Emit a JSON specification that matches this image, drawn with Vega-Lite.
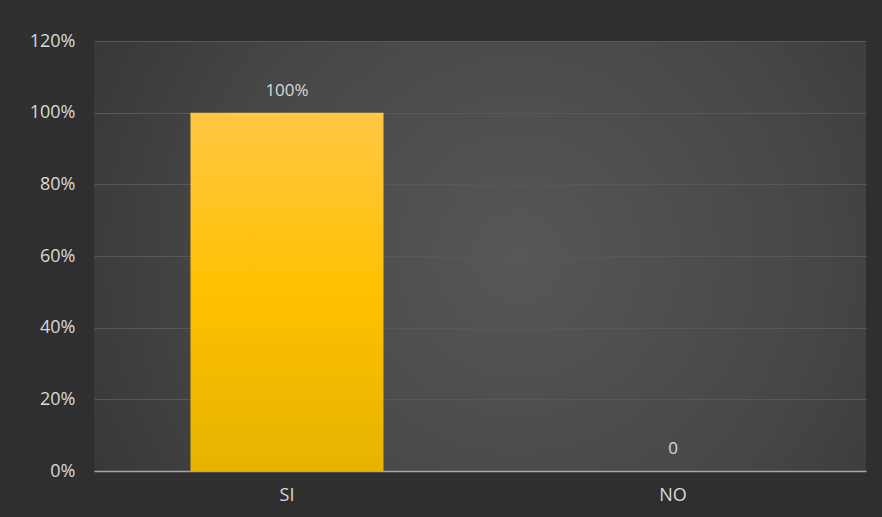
{
  "$schema": "https://vega.github.io/schema/vega-lite/v6.json",
  "width": 882,
  "height": 517,
  "autosize": {"type": "fit", "contains": "padding"},
  "padding": {"left": 29, "top": 32, "right": 16, "bottom": 13},
  "background": "#2f2f2f",
  "config": {
    "view": {
      "stroke": null,
      "fill": {
        "gradient": "radial",
        "x1": 0.55, "y1": 0.5, "r1": 0,
        "x2": 0.55, "y2": 0.5, "r2": 0.72,
        "stops": [
          {"offset": 0, "color": "#575757"},
          {"offset": 0.55, "color": "#464646"},
          {"offset": 1, "color": "#313131"}
        ]
      }
    },
    "font": "Open Sans",
    "axis": {"labelColor": "#d9d9d9", "labelFontSize": 18, "labelFont": "Open Sans", "ticks": false, "title": null}
  },
  "data": {
    "values": [
      {"respuesta": "SI", "valor": 1.0, "label": "100%"},
      {"respuesta": "NO", "valor": 0.0, "label": "0"}
    ]
  },
  "encoding": {
    "x": {
      "field": "respuesta",
      "type": "nominal",
      "sort": null,
      "scale": {"paddingInner": 0.5, "paddingOuter": 0.25},
      "axis": {"labelAngle": 0, "labelPadding": 15, "domainColor": "#a6a6a6", "domainWidth": 1.5, "grid": false}
    },
    "y": {
      "field": "valor",
      "type": "quantitative",
      "scale": {"domain": [0, 1.2]},
      "axis": {"format": "%", "values": [0, 0.2, 0.4, 0.6, 0.8, 1.0, 1.2], "domain": false, "labelPadding": 19, "gridColor": "#585858", "gridWidth": 1}
    }
  },
  "layer": [
    {
      "mark": {
        "type": "bar",
        "color": {
          "gradient": "linear",
          "x1": 0, "y1": 0, "x2": 0, "y2": 1,
          "stops": [
            {"offset": 0, "color": "#ffc844"},
            {"offset": 0.5, "color": "#ffc000"},
            {"offset": 1, "color": "#e6b400"}
          ]
        }
      }
    },
    {
      "mark": {"type": "text", "dy": -22, "fontSize": 17, "color": "#d9d9d9", "font": "Open Sans"},
      "encoding": {"text": {"field": "label"}}
    }
  ]
}
